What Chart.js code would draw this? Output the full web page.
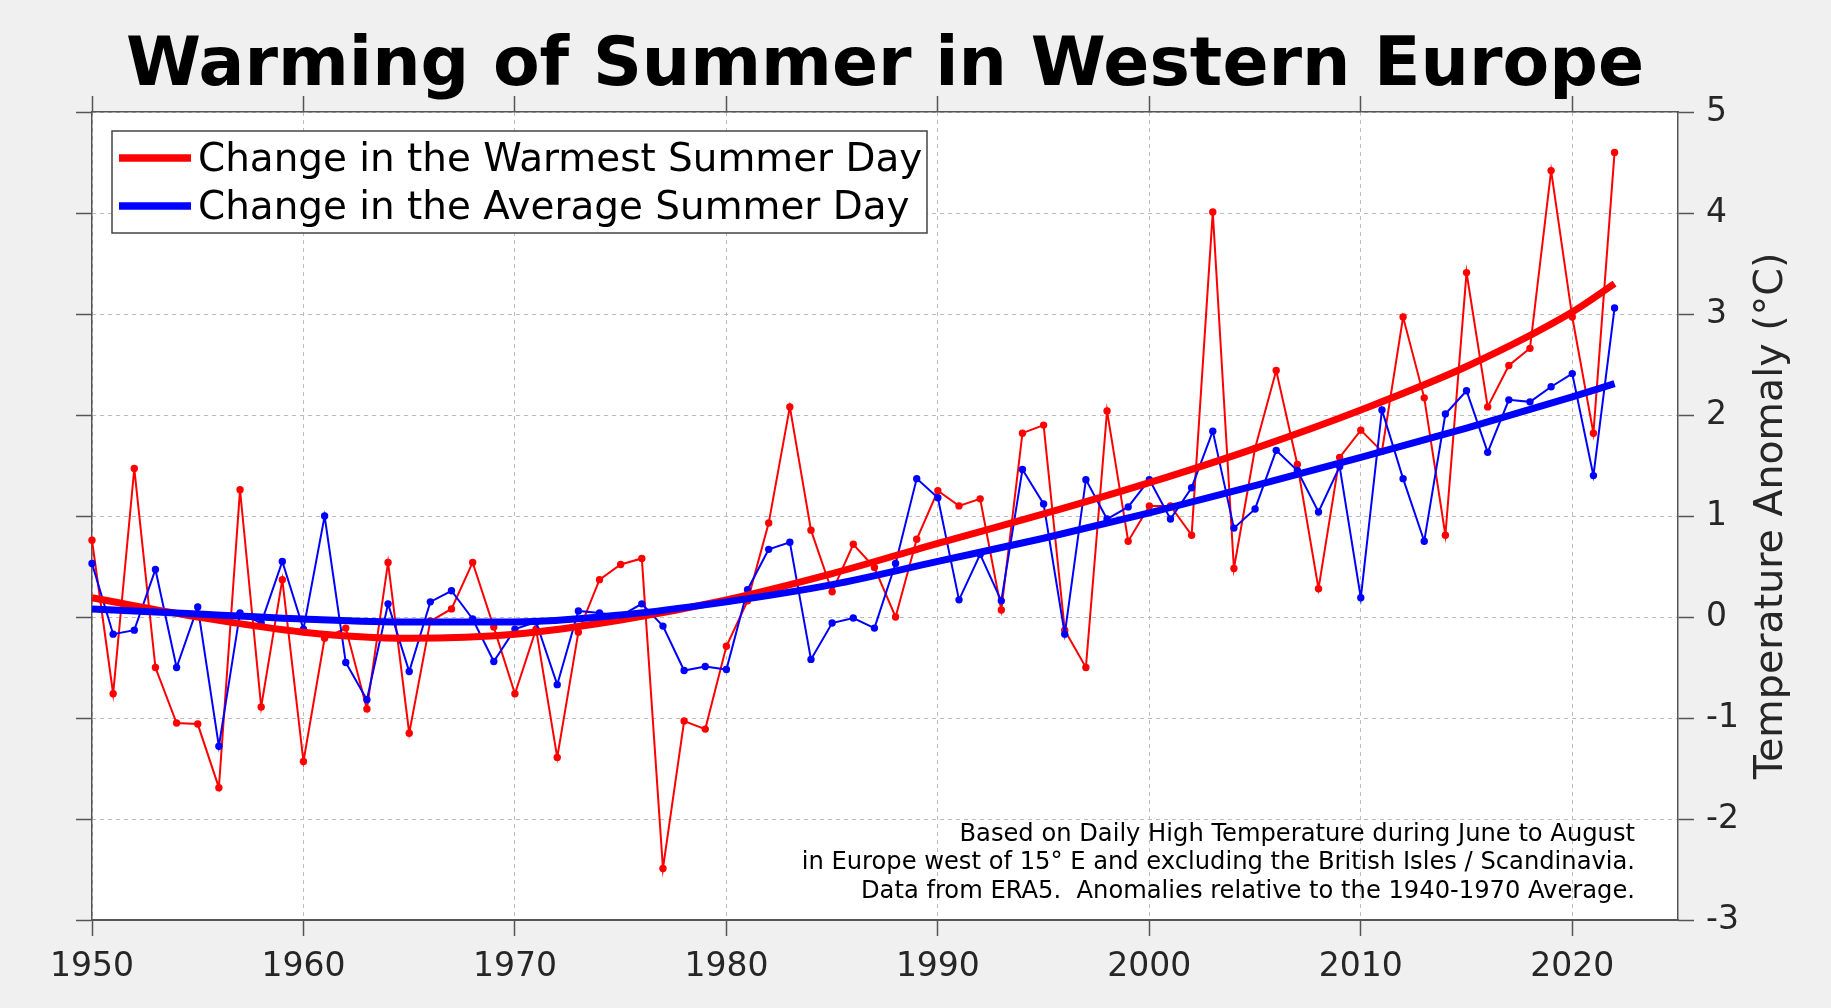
<!DOCTYPE html>
<html>
<head>
<meta charset="utf-8">
<script src="https://cdn.jsdelivr.net/npm/chart.js@4.4.1/dist/chart.umd.min.js"></script>
<style>
  html, body { margin: 0; padding: 0; background: #f0f0f0; }
  canvas { display: block; }
</style>
</head>
<body>
<canvas id="c" width="1831" height="1008"></canvas>
<script>
// ---------------- DATA ----------------
const years = [1950,1951,1952,1953,1954,1955,1956,1957,1958,1959,
               1960,1961,1962,1963,1964,1965,1966,1967,1968,1969,
               1970,1971,1972,1973,1974,1975,1976,1977,1978,1979,
               1980,1981,1982,1983,1984,1985,1986,1987,1988,1989,
               1990,1991,1992,1993,1994,1995,1996,1997,1998,1999,
               2000,2001,2002,2003,2004,2005,2006,2007,2008,2009,
               2010,2011,2012,2013,2014,2015,2016,2017,2018,2019,
               2020,2021,2022];

const warmestDay = [0.76,-0.76,1.47,-0.50,-1.05,-1.06,-1.69,1.26,-0.89,0.37,
                    -1.43,-0.21,-0.11,-0.91,0.54,-1.15,-0.04,0.08,0.54,-0.10,
                    -0.76,-0.12,-1.39,-0.15,0.37,0.52,0.58,-2.49,-1.03,-1.11,
                    -0.29,0.16,0.93,2.08,0.86,0.25,0.72,0.49,0.00,0.77,
                    1.25,1.10,1.17,0.07,1.82,1.90,-0.13,-0.50,2.04,0.75,
                    1.10,1.10,0.81,4.01,0.48,1.67,2.44,1.51,0.28,1.58,
                    1.85,1.64,2.97,2.17,0.81,3.41,2.08,2.49,2.66,4.42,
                    2.97,1.82,4.60];

const averageDay = [0.53,-0.17,-0.13,0.47,-0.50,0.10,-1.28,0.04,-0.06,0.55,
                    -0.12,1.00,-0.45,-0.82,0.13,-0.54,0.15,0.26,-0.02,-0.44,
                    -0.12,-0.05,-0.67,0.06,0.04,0.01,0.13,-0.09,-0.53,-0.49,
                    -0.52,0.27,0.67,0.74,-0.42,-0.06,-0.01,-0.11,0.53,1.37,
                    1.18,0.17,0.62,0.16,1.46,1.12,-0.17,1.36,0.97,1.09,
                    1.36,0.97,1.28,1.84,0.88,1.07,1.65,1.45,1.04,1.49,
                    0.19,2.05,1.37,0.75,2.01,2.24,1.63,2.15,2.13,2.28,
                    2.41,1.40,3.06];

// smooth trend curves
const trendYears   = [1950,1955,1960,1965,1970,1975,1980,1985,1990,1995,2000,2005,2010,2015,2020,2022];
const warmestTrend = [0.19,0.00,-0.15,-0.21,-0.17,-0.03,0.17,0.43,0.73,1.02,1.33,1.67,2.05,2.48,3.02,3.30];
const averageTrend = [0.08,0.03,-0.02,-0.05,-0.05,0.02,0.15,0.32,0.55,0.78,1.03,1.30,1.58,1.87,2.18,2.31];

const xTicks = [1950,1960,1970,1980,1990,2000,2010,2020];
const yTicks = [-3,-2,-1,0,1,2,3,4,5];

const titleText = 'Warming of Summer in Western Europe';
const yTitle = 'Temperature Anomaly (°C)';
const legendLabels = ['Change in the Warmest Summer Day', 'Change in the Average Summer Day'];
const noteLines = [
  'Based on Daily High Temperature during June to August',
  'in Europe west of 15° E and excluding the British Isles / Scandinavia.',
  'Data from ERA5.  Anomalies relative to the 1940-1970 Average.'
];

// ---------------- STYLE ----------------
const FONT = "'DejaVu Sans', 'Liberation Sans', sans-serif";
const RED = '#ff0000';
const BLUE = '#0000ff';
const AXIS = '#555555';
const GRID = '#bdbdbd';
const TICKTXT = '#262626';

const pts = (xs, ys) => xs.map((x, i) => ({ x: x, y: ys[i] }));

const decorPlugin = {
  id: 'decor',
  beforeDraw(chart) {
    const { ctx, chartArea: a } = chart;
    ctx.save();
    ctx.fillStyle = '#f0f0f0';
    ctx.fillRect(0, 0, chart.width, chart.height);
    ctx.fillStyle = '#ffffff';
    ctx.fillRect(a.left, a.top, a.right - a.left, a.bottom - a.top);
    ctx.restore();
  },
  afterDraw(chart) {
    const { ctx, chartArea: a } = chart;
    ctx.save();
    // title
    ctx.fillStyle = '#000';
    ctx.font = 'bold 68px ' + FONT;
    ctx.textAlign = 'center';
    ctx.textBaseline = 'alphabetic';
    ctx.fillText(titleText, (a.left + a.right) / 2, 85);

    // right axis title (rotated)
    ctx.save();
    ctx.translate(1772, (a.top + a.bottom) / 2);
    ctx.rotate(-Math.PI / 2);
    ctx.fillStyle = TICKTXT;
    ctx.font = '39.5px ' + FONT;
    ctx.textAlign = 'center';
    ctx.textBaseline = 'middle';
    ctx.fillText(yTitle, 0, 0);
    ctx.restore();

    // legend box
    const bx = a.left + 20, by = a.top + 19, bw = 815, bh = 102;
    ctx.fillStyle = '#fff';
    ctx.fillRect(bx, by, bw, bh);
    ctx.strokeStyle = '#444';
    ctx.lineWidth = 1.5;
    ctx.strokeRect(bx, by, bw, bh);
    const colors = [RED, BLUE];
    const rowsY = [by + 27, by + 75];
    for (let i = 0; i < 2; i++) {
      ctx.strokeStyle = colors[i];
      ctx.lineWidth = 7.5;
      ctx.beginPath();
      ctx.moveTo(bx + 7, rowsY[i]);
      ctx.lineTo(bx + 79, rowsY[i]);
      ctx.stroke();
      ctx.fillStyle = '#000';
      ctx.font = '38.9px ' + FONT;
      ctx.textAlign = 'left';
      ctx.textBaseline = 'alphabetic';
      ctx.fillText(legendLabels[i], bx + 86, rowsY[i] + 13);
    }

    // note text
    ctx.fillStyle = '#000';
    ctx.font = '24.2px ' + FONT;
    ctx.textAlign = 'right';
    ctx.textBaseline = 'alphabetic';
    noteLines.forEach((t, i) => ctx.fillText(t, 1635, 841 + i * 28.3));
    ctx.restore();
  }
};

const ctx = document.getElementById('c').getContext('2d');
new Chart(ctx, {
  type: 'line',
  data: {
    datasets: [
      { label: legendLabels[1] + ' (trend)', data: pts(trendYears, averageTrend),
        borderColor: BLUE, borderWidth: 7, pointRadius: 0, cubicInterpolationMode: 'monotone', clip: false },
      { label: legendLabels[0] + ' (trend)', data: pts(trendYears, warmestTrend),
        borderColor: RED, borderWidth: 7, pointRadius: 0, cubicInterpolationMode: 'monotone', clip: false },
      { label: legendLabels[1], data: pts(years, averageDay),
        borderColor: BLUE, borderWidth: 2, pointRadius: 3.7, pointBackgroundColor: BLUE,
        pointBorderWidth: 0, tension: 0, clip: false },
      { label: legendLabels[0], data: pts(years, warmestDay),
        borderColor: RED, borderWidth: 2, pointRadius: 3.7, pointBackgroundColor: RED,
        pointBorderWidth: 0, tension: 0, clip: false }
    ]
  },
  options: {
    responsive: false,
    animation: false,
    devicePixelRatio: 1,
    layout: { padding: 0 },
    events: [],
    plugins: { legend: { display: false }, tooltip: { enabled: false }, title: { display: false } },
    scales: {
      x: {
        type: 'linear', position: 'bottom', min: 1950, max: 2025,
        afterBuildTicks: s => { s.ticks = xTicks.map(v => ({ value: v })); },
        ticks: { callback: v => String(v), font: { family: FONT, size: 33 }, color: TICKTXT, padding: 12, maxRotation: 0, autoSkip: false },
        grid: { color: GRID, lineWidth: 1, drawTicks: true, tickLength: 16, tickColor: AXIS, tickWidth: 1.5, tickBorderDash: [] },
        border: { display: true, color: AXIS, width: 2, dash: [4, 4] },
        afterFit: s => { s.height = 88; }
      },
      xTop: {
        type: 'linear', position: 'top', min: 1950, max: 2025,
        afterBuildTicks: s => { s.ticks = xTicks.map(v => ({ value: v })); },
        ticks: { display: false },
        grid: { drawOnChartArea: false, drawTicks: true, tickLength: 16, tickColor: AXIS, tickWidth: 1.5 },
        border: { display: true, color: AXIS, width: 1.5 },
        afterFit: s => { s.height = 112; }
      },
      yLeft: {
        type: 'linear', position: 'left', min: -3, max: 5,
        afterBuildTicks: s => { s.ticks = yTicks.map(v => ({ value: v })); },
        ticks: { display: false },
        grid: { drawOnChartArea: false, drawTicks: true, tickLength: 16, tickColor: AXIS, tickWidth: 1.5 },
        border: { display: true, color: AXIS, width: 1.5 },
        afterFit: s => { s.width = 92; }
      },
      y: {
        type: 'linear', position: 'right', min: -3, max: 5,
        afterBuildTicks: s => { s.ticks = yTicks.map(v => ({ value: v })); },
        ticks: { font: { family: FONT, size: 33 }, color: TICKTXT, padding: 12 },
        grid: { color: GRID, lineWidth: 1, drawTicks: true, tickLength: 16, tickColor: AXIS, tickWidth: 1.5, tickBorderDash: [] },
        border: { display: true, color: AXIS, width: 1.5, dash: [4, 4] },
        afterFit: s => { s.width = 153; }
      }
    }
  },
  plugins: [decorPlugin]
});
</script>
</body>
</html>
